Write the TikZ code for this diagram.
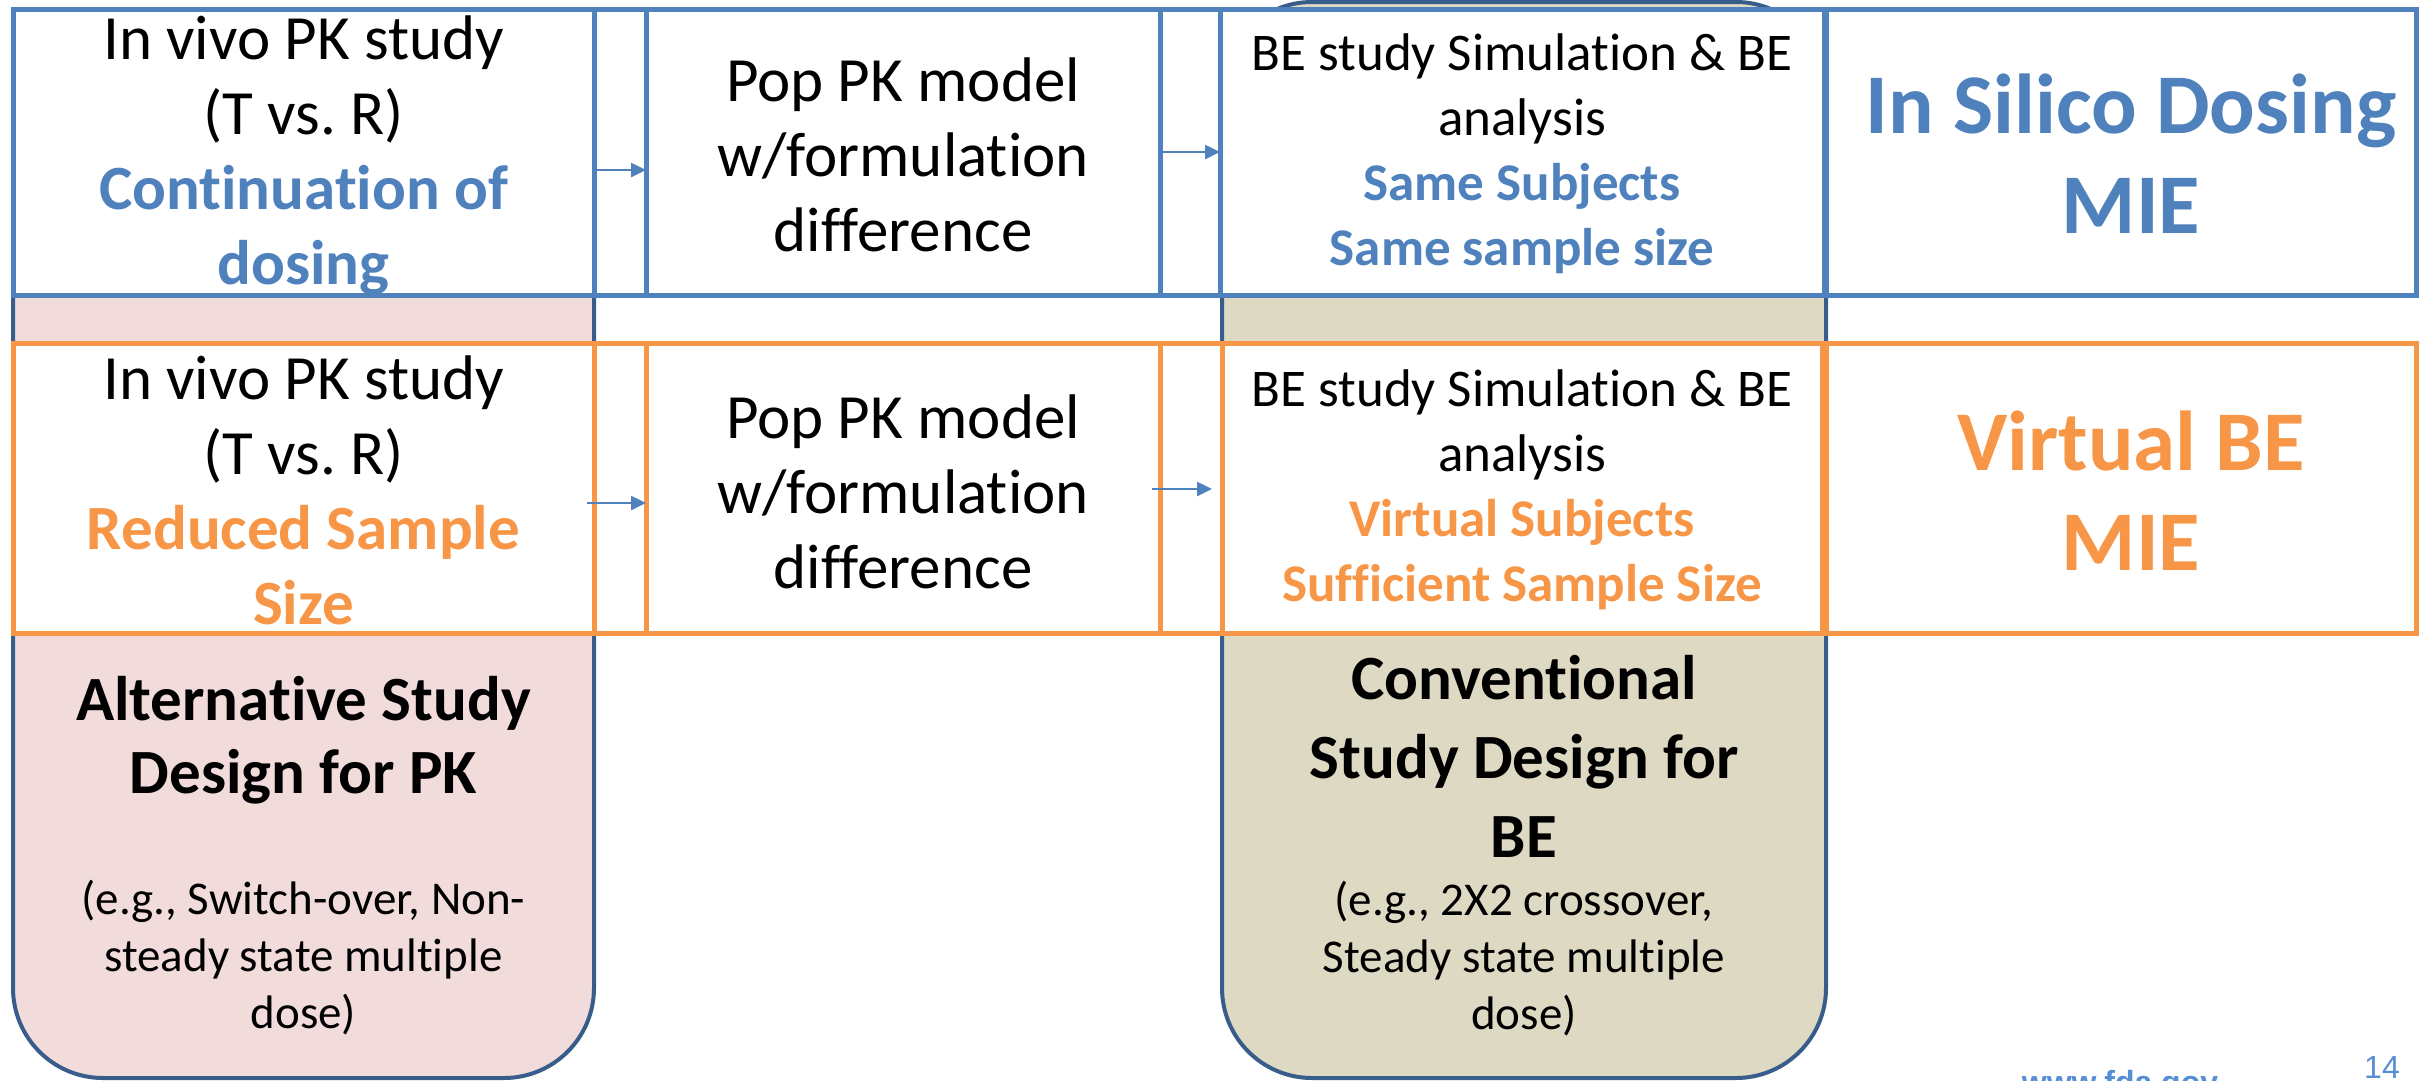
\documentclass[tikz,border=0pt]{standalone}
\usepackage{fontspec}
\setmainfont{Carlito}[Ligatures=NoCommon]
\newfontfamily\arialf{Liberation Sans}
\usetikzlibrary{arrows.meta}
\definecolor{oblue}{HTML}{4F81BD}
\definecolor{oorange}{HTML}{F79646}
\definecolor{odark}{HTML}{385D8A}
\definecolor{opink}{HTML}{F2DCDB}
\definecolor{obeige}{HTML}{DDD9C3}
\definecolor{ourl}{HTML}{558ED5}
\frenchspacing
\begin{document}
\begin{tikzpicture}[x=1pt,y=-1pt,
  cell/.style={line width=5pt, fill=white, inner sep=0pt, outer sep=0pt},
  bcell/.style={cell, draw=oblue},
  ocell/.style={cell, draw=oorange},
  colbox/.style={draw=odark, line width=4pt, rounded corners=90pt, inner sep=0pt, outer sep=0pt},
  tx/.style={align=center, inner sep=0pt, font=\fontsize{63}{75}\selectfont},
  ts/.style={align=center, inner sep=0pt, font=\fontsize{53}{65}\selectfont},
  tbig/.style={align=center, inner sep=0pt, font=\bfseries\fontsize{85}{100}\selectfont},
  tnote/.style={align=center, inner sep=0pt, font=\fontsize{47}{57}\selectfont},
  arr/.style={draw=oblue, line width=2.5pt, -{Triangle[length=15pt,width=14pt]}}]
\useasboundingbox (0,0) rectangle (2425,1080);

% background columns
\node[colbox, fill=opink, minimum width=581pt, minimum height=1069pt] (pink) at (303.5,543.5) {};
\node[colbox, fill=obeige, minimum width=604pt, minimum height=1076pt] (beige) at (1524,540) {};

% row outlines
\node[bcell, fill=none, minimum width=2403pt, minimum height=286pt] (rowA) at (1214.5,152) {};
\node[ocell, fill=none, minimum width=2403pt, minimum height=290pt] (rowB) at (1214.5,488) {};

% top row cells
\node[bcell, minimum width=581pt, minimum height=286pt] (t1) at (303.5,152) {};
\node[bcell, minimum width=514pt, minimum height=286pt] (t2) at (903,152) {};
\node[bcell, minimum width=604pt, minimum height=286pt] (t3) at (1522,152) {};
\node[bcell, minimum width=590pt, minimum height=286pt] (t4) at (2121,152) {};

% bottom row cells
\node[ocell, minimum width=581pt, minimum height=290pt] (b1) at (303.5,488) {};
\node[ocell, minimum width=514pt, minimum height=290pt] (b2) at (903,488) {};
\node[ocell, minimum width=600pt, minimum height=290pt] (b3) at (1522,488) {};
\node[ocell, minimum width=590pt, minimum height=290pt] (b4) at (2121,488) {};

% top row texts
\node[tx] (t1txt) at (303.5,155) {In vivo PK study\\(T vs. R)\\\textcolor{oblue}{\bfseries Continuation of}\\\textcolor{oblue}{\bfseries dosing}};
\node[tx] (t2txt) at (903,155) {Pop PK model\\w/formulation\\difference};
\node[ts] (t3txt) at (1522,154) {BE study Simulation \& BE\\analysis\\\textcolor{oblue}{\bfseries Same Subjects}\\\textcolor{oblue}{\bfseries Same sample size}};
\node[tbig, text=oblue] (t4txt) at (2131,154) {In Silico Dosing\\MIE};

% bottom row texts
\node[tx] (b1txt) at (303.5,490) {In vivo PK study\\(T vs. R)\\\textcolor{oorange}{\bfseries Reduced Sample}\\\textcolor{oorange}{\bfseries Size}};
\node[tx] (b2txt) at (903,492) {Pop PK model\\w/formulation\\difference};
\node[ts] (b3txt) at (1522,490) {BE study Simulation \& BE\\analysis\\\textcolor{oorange}{\bfseries Virtual Subjects}\\\textcolor{oorange}{\bfseries Sufficient Sample Size}};
\node[tbig, text=oorange] (b4txt) at (2131,491) {Virtual BE\\MIE};

% column texts
\node[tx, font=\bfseries\fontsize{63}{73}\selectfont] (pinkhead) at (303.5,740) {Alternative Study\\Design for PK};
\node[tnote] (pinknote) at (303.5,958) {(e.g., Switch-over, Non-\\steady state multiple\\dose)};
\node[tx, font=\bfseries\fontsize{63}{79}\selectfont] (beigehead) at (1524,756) {Conventional\\Study Design for\\BE};
\node[tnote] (beigenote) at (1524,959) {(e.g., 2X2 crossover,\\Steady state multiple\\dose)};

% arrows
\coordinate (ya1) at (0,170);
\coordinate (ya2) at (0,152);
\coordinate (ya3) at (0,503);
\coordinate (ya4) at (0,489);
\draw[arr] (t1.east |- ya1) -- (t2.west |- ya1);
\draw[arr] (t2.east |- ya2) -- (t3.west |- ya2);
\draw[arr] ([xshift=-7pt]b1.east |- ya3) -- (b2.west |- ya3);
\draw[arr] ([xshift=-8pt]b2.east |- ya4) -- ([xshift=-10pt]b3.west |- ya4);

% footer
\node[anchor=base, text=ourl, font=\arialf\fontsize{32}{38}\selectfont, inner sep=0pt] (pagenum) at (2382,1078) {14};
\node[anchor=base, text=ourl, font=\arialf\bfseries\fontsize{32}{38}\selectfont, inner sep=0pt] (url) at (2120,1093) {www.fda.gov};
\end{tikzpicture}
\end{document}
